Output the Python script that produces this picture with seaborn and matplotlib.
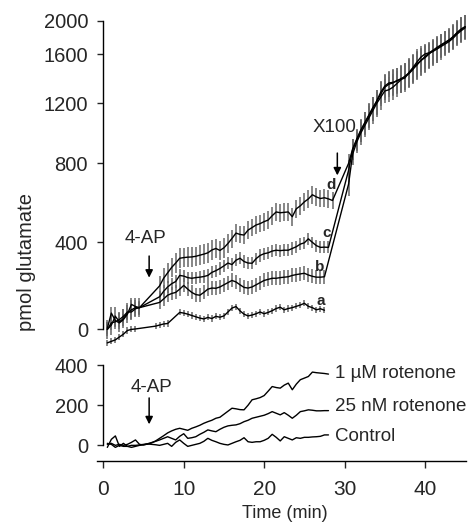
import numpy as np
import seaborn as sns
import matplotlib.pyplot as plt

sns.set_style("ticks")
plt.rcParams['font.family'] = ['Liberation Sans', 'DejaVu Sans']

# ---- top panel: glutamate release (pmol), curves a-d ----
early_t = [0.5, 1.0, 1.5, 2.0, 2.5, 3.0, 3.5, 4.0, 4.5]
post_t = [30.5, 31.0, 31.5, 32.0, 32.5, 33.0, 33.5, 34.0, 34.5, 35.0, 35.5, 36.0, 36.5, 37.0, 37.5,
          38.0, 38.5, 39.0, 39.5, 40.0, 40.5, 41.0, 41.5, 42.0, 42.5, 43.0, 43.5, 44.0, 44.5, 45.0]

a_t = [0.5, 1.0, 1.5, 2.0, 2.5, 3.0, 3.5, 4.0, 6.5, 7.0, 7.5, 8.0, 9.5, 10.0, 10.5, 11.0, 11.5, 12.0,
       12.5, 13.0, 13.5, 14.0, 14.5, 15.0, 15.5, 16.0, 16.5, 17.0, 17.5, 18.0, 18.5, 19.0, 19.5, 20.0,
       20.5, 21.0, 21.5, 22.0, 22.5, 23.0, 23.5, 24.0, 24.5, 25.0, 25.5, 26.0, 26.5, 27.0, 27.5]
a_y = [-62, -55, -48, -35, -22, -5, 0, 2, 15, 20, 25, 27, 78, 75, 70, 64, 58, 52, 48, 55, 50, 60,
       56, 62, 80, 98, 105, 85, 70, 62, 66, 72, 80, 72, 78, 86, 96, 102, 90, 96, 100, 106, 112, 120,
       106, 100, 90, 95, 88]

b_t = early_t + [7.0, 7.5, 8.0, 8.5, 9.0, 9.5, 10.0, 10.5, 11.0, 11.5, 12.0, 12.5, 13.0, 13.5, 14.0,
                 14.5, 15.0, 15.5, 16.0, 16.5, 17.0, 17.5, 18.0, 18.5, 19.0, 19.5, 20.0, 20.5, 21.0,
                 21.5, 22.0, 22.5, 23.0, 23.5, 24.0, 24.5, 25.0, 25.5, 26.0, 26.5, 27.0, 27.5] + post_t
b_y = [0, 30, 35, 45, 60, 80, 80, 95, 100,
       124, 140, 157, 165, 170, 185, 202, 185, 170, 160, 157, 170, 185, 190, 189, 195, 205, 215, 225,
       218, 205, 193, 190, 195, 205, 215, 225, 230, 235, 235, 238, 240, 242, 248, 252, 255, 258, 250,
       244, 240, 240, 242,
       695, 860, 940, 1000, 1050, 1100, 1150, 1200, 1250, 1300, 1310, 1330, 1360, 1390, 1420, 1445,
       1480, 1510, 1550, 1570, 1600, 1640, 1660, 1690, 1720, 1750, 1790, 1840, 1880, 1915]

c_t = early_t + [7.0, 7.5, 8.0, 8.5, 9.0, 9.5, 10.0, 10.5, 11.0, 11.5, 12.0, 12.5, 13.0, 13.5, 14.0,
                 14.5, 15.0, 15.5, 16.0, 16.5, 17.0, 17.5, 18.0, 18.5, 19.0, 19.5, 20.0, 20.5, 21.0,
                 21.5, 22.0, 22.5, 23.0, 23.5, 24.0, 24.5, 25.0, 25.5, 26.0, 26.5, 27.0, 27.5,
                 28.0] + post_t
c_y = [5, 75, 40, 30, 45, 70, 115, 105, 100,
       150, 175, 195, 210, 220, 248, 245, 238, 235, 238, 240, 243, 248, 262, 270, 280, 292, 305, 298,
       318, 327, 312, 305, 304, 325, 340, 348, 352, 360, 364, 362, 364, 364, 372, 380, 392, 398, 418,
       400, 385, 377, 378, 377,
       765, 890, 955, 1015, 1065, 1115, 1165, 1220, 1290, 1340, 1365, 1370, 1380, 1400, 1415, 1440,
       1475, 1520, 1545, 1580, 1610, 1630, 1665, 1705, 1735, 1765, 1810, 1855, 1895, 1925]

d_t = early_t + [7.0, 7.5, 8.0, 8.5, 9.0, 9.5, 10.0, 10.5, 11.0, 11.5, 12.0, 12.5, 13.0, 13.5, 14.0,
                 14.5, 15.0, 15.5, 16.0, 16.5, 17.0, 17.5, 18.0, 18.5, 19.0, 19.5, 20.0, 20.5, 21.0,
                 21.5, 22.0, 22.5, 23.0, 23.5, 24.0, 24.5, 25.0, 25.5, 26.0, 26.5, 27.0, 27.5, 28.0,
                 28.5] + post_t
d_y = [0, 20, 60, 35, 50, 75, 90, 100, 100,
       200, 235, 260, 285, 305, 327, 330, 332, 333, 336, 341, 346, 352, 365, 372, 363, 375, 395, 420,
       447, 440, 437, 462, 475, 488, 495, 505, 513, 535, 554, 550, 552, 554, 530, 570, 585, 605, 620,
       641, 630, 622, 626, 620, 612,
       800, 895, 960, 1020, 1070, 1120, 1170, 1215, 1275, 1330, 1355, 1365, 1385, 1395, 1405, 1450,
       1490, 1535, 1575, 1600, 1615, 1645, 1680, 1710, 1740, 1770, 1805, 1860, 1900, 1930]

# SEM (pmol): before X100 per curve, after X100 shared
a_sem = 14
b_sem = 32
c_sem = 28
d_sem = 45
post_sem = [60, 70, 70, 75, 75, 80, 85, 90, 95, 100, 100, 105, 105, 110, 110,
            115, 115, 120, 120, 125, 125, 130, 135, 135, 140, 140, 145, 145, 150, 150]

# ---- bottom panel: rotenone traces ----
rot_t = [0.5, 1.0, 1.5, 2.0, 2.5, 3.0, 3.5, 4.0, 4.5, 5.0, 5.5, 6.0, 6.5, 7.0, 7.5, 8.0, 8.5, 9.0,
         9.5, 10.0, 10.5, 11.0, 11.5, 12.0, 12.5, 13.0, 13.5, 14.0, 14.5, 15.0, 15.5, 16.0, 16.5,
         17.0, 17.5, 18.0, 18.5, 19.0, 19.5, 20.0, 20.5, 21.0, 21.5, 22.0, 22.5, 23.0, 23.5, 24.0,
         24.5, 25.0, 25.5, 26.0, 26.5, 27.0, 27.5, 28.0]
rot_1um = [10, 5, -10, 0, -5, -5, -10, -5, 0, 3,
           6, 12, 22, 35, 48, 62, 72, 80, 85, 80,
           75, 85, 92, 100, 110, 118, 125, 135, 140, 155,
           170, 185, 182, 178, 177, 200, 227, 232, 238, 248,
           270, 293, 288, 285, 300, 310, 277, 305, 327, 335,
           343, 365, 362, 360, 358, 355]
rot_25nm = [-10, 30, 47, -5, 10, -5, 0, 0, 2, 5,
            8, 14, 20, 27, 35, 43, 35, 27, 45, 58,
            35, 38, 43, 55, 65, 77, 72, 68, 80, 90,
            97, 100, 102, 108, 118, 125, 135, 140, 145, 150,
            158, 168, 160, 152, 163, 150, 135, 150, 168, 172,
            177, 175, 172, 172, 173, 173]
control = [5, 10, 0, 5, 0, 5, 15, 27, 5, 2,
           7, 5, 3, 0, 5, 10, -5, 15, 27, 10,
           -5, 0, 5, 10, 20, 35, 25, 18, 10, 5,
           2, 10, 18, 25, 38, 18, 15, 18, 18, 25,
           35, 55, 40, 22, 43, 35, 27, 38, 35, 40,
           40, 42, 43, 45, 52, 52]
rot_labels = ["1 µM rotenone", "25 nM rotenone", "Control"]

# top y axis is not linear in the original: piecewise scale through its ticks
top_ticks = [0, 400, 800, 1200, 1600, 2000]
top_tick_pos = [0, 87, 166, 226, 275.3, 308.6]


def fwd(v):
    v = np.asarray(v, dtype=float)
    out = np.interp(v, top_ticks, top_tick_pos)
    out = np.where(v < 0, v * 87 / 400, out)
    out = np.where(v > 2000, 308.6 + (v - 2000) * 33.3 / 400, out)
    return out


def inv(u):
    u = np.asarray(u, dtype=float)
    out = np.interp(u, top_tick_pos, top_ticks)
    out = np.where(u < 0, u * 400 / 87, out)
    out = np.where(u > 308.6, 2000 + (u - 308.6) * 400 / 33.3, out)
    return out


fig = plt.figure(figsize=(4.69, 5.24), dpi=100)
ax2 = fig.add_axes([0.2062, 0.1202, 0.7874, 0.1927])
ax1 = fig.add_axes([0.2062, 0.3282, 0.7874, 0.6431], sharex=ax2)

lw = 1.0
for t, y, sem, n_pre in [(a_t, a_y, a_sem, len(a_t)), (b_t, b_y, b_sem, len(b_t) - 30),
                         (c_t, c_y, c_sem, len(c_t) - 30), (d_t, d_y, d_sem, len(d_t) - 30)]:
    err = [sem] * n_pre + post_sem[:len(t) - n_pre]
    ax1.errorbar(t, y, yerr=err, fmt='none', ecolor='0.4', elinewidth=1.1, capsize=0, zorder=1)
    sns.lineplot(x=t, y=y, ax=ax1, color='k', lw=lw, sort=False, estimator=None, zorder=2)

ax1.set_yscale('function', functions=(fwd, inv))
ax1.set_ylim(-104, 2068)
ax1.set_yticks(top_ticks)
ax1.set_xlim(-0.82, 45.1)
sns.despine(ax=ax1, bottom=True)
ax1.spines['left'].set_bounds(0, 2000)
ax1.spines['left'].set_position(('data', 0))
ax1.tick_params(axis='x', bottom=False, labelbottom=False)
ax1.tick_params(axis='y', direction='out', length=4, width=1, labelsize=14.5, pad=7)
ax1.set_xlabel('')
ax1.set_ylabel('')

for lbl, x, y in [('a', 27.0, 129), ('b', 26.9, 285), ('c', 27.8, 446), ('d', 28.3, 689)]:
    ax1.text(x, y, lbl, fontsize=11, fontweight='bold', ha='center', va='center')

ax1.text(5.3, 420, '4-AP', fontsize=13.5, ha='center', va='center')
ax1.annotate('', xy=(5.7, 225), xytext=(5.7, 350),
             arrowprops=dict(arrowstyle='-|>', color='k', lw=1.1, mutation_scale=11))
ax1.text(28.75, 1040, 'X100', fontsize=13.5, ha='center', va='center')
ax1.annotate('', xy=(29.1, 725), xytext=(29.1, 887),
             arrowprops=dict(arrowstyle='-|>', color='k', lw=1.1, mutation_scale=11))

for vals in [rot_1um, rot_25nm, control]:
    sns.lineplot(x=rot_t, y=vals, ax=ax2, color='k', lw=lw, sort=False, estimator=None)
for lbl, y in zip(rot_labels, [360, 196, 46]):
    ax2.text(28.8, y, lbl, fontsize=13.5, ha='left', va='center')

ax2.text(5.95, 290, '4-AP', fontsize=13.5, ha='center', va='center')
ax2.annotate('', xy=(5.7, 91), xytext=(5.7, 250),
             arrowprops=dict(arrowstyle='-|>', color='k', lw=1.1, mutation_scale=11))

ax2.set_ylim(-78, 425)
ax2.set_yticks([0, 200, 400])
ax2.set_xticks([0, 10, 20, 30, 40])
sns.despine(ax=ax2)
ax2.spines['left'].set_bounds(0, 400)
ax2.spines['left'].set_position(('data', 0))
ax2.tick_params(axis='y', direction='out', length=4, width=1, labelsize=14.5, pad=7)
ax2.tick_params(axis='x', direction='out', length=5, width=1, labelsize=15, pad=9)
for ax in (ax1, ax2):
    for s in ax.spines.values():
        s.set_linewidth(1.0)
        s.set_color('k')
ax2.set_xlabel('')
ax2.set_ylabel('')

fig.text(27 / 469, 1 - 262 / 524, 'pmol glutamate', rotation=90, fontsize=14.5,
         ha='center', va='center')
fig.text(285 / 469, 1 - 514 / 524, 'Time (min)', fontsize=13, ha='center', va='center')

fig.savefig('out.png', dpi=100)
